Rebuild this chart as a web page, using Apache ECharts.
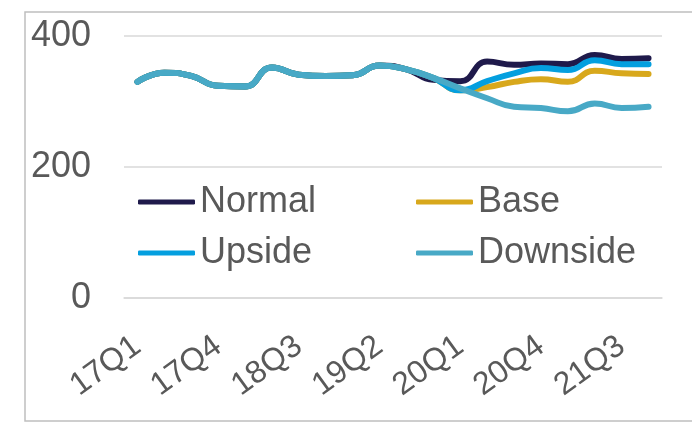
<!DOCTYPE html>
<html>
<head>
<meta charset="utf-8">
<script src="https://cdn.jsdelivr.net/npm/echarts@6/dist/echarts.min.js"></script>
<style>
    html, body { margin: 0; padding: 0; background: #fff; }
    #chart { width: 692px; height: 427px; }
</style>
</head>
<body>
<div id="chart"></div>
<script>
var quarters = [
    '17Q1', '17Q2', '17Q3', '17Q4', '18Q1', '18Q2', '18Q3', '18Q4', '19Q1', '19Q2',
    '19Q3', '19Q4', '20Q1', '20Q2', '20Q3', '20Q4', '21Q1', '21Q2', '21Q3', '21Q4'
];
var normal   = [330, 344, 339, 324, 323, 352, 341, 339, 340, 355, 349, 333, 331, 361, 356, 358, 357, 371, 365, 366];
var base     = [330, 344, 339, 324, 323, 352, 341, 339, 340, 355, 349, 336, 317, 322, 330, 334, 330, 347, 343, 342];
var upside   = [330, 344, 339, 324, 323, 352, 341, 339, 340, 355, 349, 336, 317, 331, 343, 351, 348, 363, 357, 357];
var downside = [330, 344, 339, 324, 323, 352, 341, 339, 340, 355, 349, 336, 320, 305, 292, 290, 285, 297, 290, 292];

var colors = {
    Normal: '#1f1a4b',
    Base: '#d8a81c',
    Upside: '#049fdf',
    Downside: '#48a9c6'
};
var font = '"Liberation Sans", Arial, sans-serif';
var textColor = '#595959';

function makeSeries(name, data) {
    return {
        name: name,
        type: 'line',
        data: data,
        smooth: 0.5,
        symbol: 'none',
        lineStyle: { width: 6, color: colors[name], cap: 'round', join: 'round' },
        itemStyle: { color: colors[name] }
    };
}

// one legend per item so the 2x2 layout sits where the original has it
function makeLegend(name, left, centerY) {
    return {
        data: [name],
        left: left,
        top: centerY - 20,
        padding: 0,
        icon: 'roundRect',
        itemWidth: 57,
        itemHeight: 5,
        textStyle: { fontFamily: font, fontSize: 36, color: textColor, lineHeight: 40 }
    };
}

var chart = echarts.init(document.getElementById('chart'));
chart.setOption({
    animation: false,
    backgroundColor: '#fff',
    graphic: [{
        type: 'rect',
        shape: { x: 25, y: 12, width: 700, height: 409 },
        style: { fill: null, stroke: '#bfbfbf', lineWidth: 1.5 },
        silent: true,
        z: -1
    }],
    legend: [
        makeLegend('Normal', 138, 202),
        makeLegend('Upside', 138, 253),
        makeLegend('Base', 416, 202),
        makeLegend('Downside', 416, 253)
    ],
    grid: {
        left: 124,
        right: 30,
        top: 36,
        bottom: 129,
        outerBoundsMode: 'none'
    },
    xAxis: {
        type: 'category',
        data: quarters,
        boundaryGap: true,
        axisLine: { show: true, lineStyle: { color: '#d9d9d9', width: 1.5 } },
        axisTick: { show: false },
        axisLabel: {
            interval: 2,
            rotate: 36,
            margin: 45,
            fontFamily: font,
            fontSize: 32,
            color: textColor
        }
    },
    yAxis: {
        type: 'value',
        min: 0,
        max: 400,
        interval: 200,
        axisLine: { show: false },
        axisTick: { show: false },
        splitLine: { lineStyle: { color: '#d9d9d9', width: 1.5 } },
        axisLabel: {
            margin: 33,
            fontFamily: font,
            fontSize: 36,
            color: textColor
        }
    },
    series: [
        makeSeries('Normal', normal),
        makeSeries('Base', base),
        makeSeries('Upside', upside),
        makeSeries('Downside', downside)
    ]
});
</script>
</body>
</html>
